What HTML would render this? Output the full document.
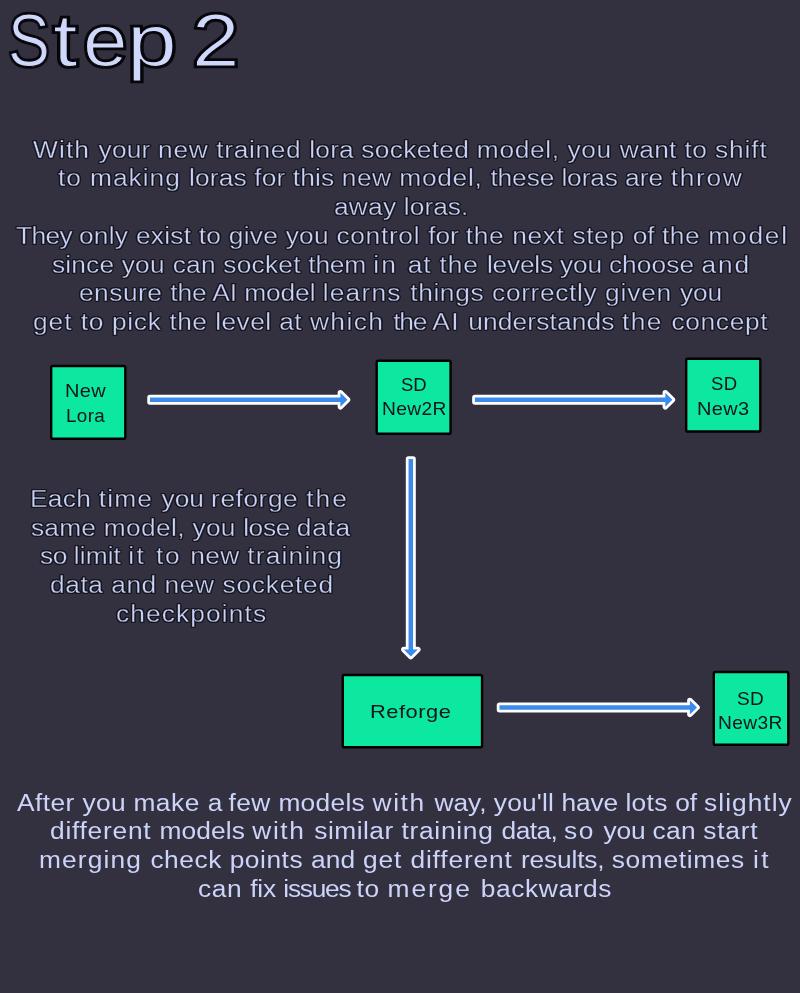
<!DOCTYPE html>
<html><head><meta charset="utf-8"><title>Step 2</title>
<style>
html,body{margin:0;padding:0;}
body{width:800px;height:993px;background:#33303f;position:relative;overflow:hidden;font-family:"Liberation Sans",sans-serif;}
.t{position:absolute;white-space:pre;font-size:23.5px;line-height:30px;height:30px;color:#c9d2f8;transform-origin:0 0;transform:scaleX(1.12);}
.a{-webkit-text-stroke:0.3px #17161f;text-shadow:1.15px 0 0 #17161f,-1.15px 0 0 #17161f,0 1.3px 0 #17161f,0 -1.3px 0 #17161f,.85px .95px 0 #17161f,-.85px .95px 0 #17161f,.85px -.95px 0 #17161f,-.85px -.95px 0 #17161f;}
.b{color:#ccd4fa;}
.box{position:absolute;box-sizing:border-box;background:#0ce8a0;border:2.25px solid #08080c;border-radius:3px;}
.l{position:absolute;white-space:pre;color:#14141c;font-size:18.5px;line-height:24px;height:24px;transform-origin:0 0;transform:scaleX(1.04);}
h1{position:absolute;margin:0;left:0;top:1px;width:260px;height:90px;font-weight:normal;font-size:74.5px;line-height:80px;white-space:pre;color:#cfd8fb;}
.c{position:absolute;top:0;transform-origin:0 0;-webkit-text-stroke:1.2px #07070b;}
.c::before{position:absolute;left:0;top:0;z-index:-1;color:#07070b;-webkit-text-stroke:4.6px #07070b;}
.cS::before{content:"S";}.ct::before{content:"t";}.ce::before{content:"e";}.cp::before{content:"p";}.c2::before{content:"2";}
svg{position:absolute;left:0;top:0;}
.t,.l,.c{will-change:transform;}
</style></head><body>
<h1 id="title"><span class="c cS" style="left:7.90px;transform:scaleX(0.8403)">S</span><span class="c ct" style="left:52.73px;transform:scaleX(1.1800)">t</span><span class="c ce" style="left:83.20px;transform:scaleX(1.0733)">e</span><span class="c cp" style="left:126.60px;transform:scaleX(1.2020)">p</span> <span class="c c2" style="left:191.60px;transform:scaleX(1.1452)">2</span></h1>
<svg width="800" height="993" viewBox="0 0 800 993">
<g fill="#0ce8a0" stroke="#000000" stroke-width="2.4">
<rect x="51.20" y="365.95" width="74.10" height="72.85" rx="1.6" ry="1.6"/>
<rect x="376.70" y="360.70" width="73.85" height="73.10" rx="1.6" ry="1.6"/>
<rect x="686.20" y="358.70" width="74.10" height="72.85" rx="1.6" ry="1.6"/>
<rect x="342.80" y="674.95" width="139.25" height="72.35" rx="1.6" ry="1.6"/>
<rect x="713.80" y="671.95" width="74.50" height="72.85" rx="1.6" ry="1.6"/>
</g>
</svg>
<div class="t a" id="t0" style="left:33.30px;top:135.20px"><span style="letter-spacing:0.999px">With </span><span style="letter-spacing:0.184px">your </span><span style="letter-spacing:0.584px">new trained </span><span style="letter-spacing:0.133px">lora </span><span style="letter-spacing:0.286px">socketed </span><span style="letter-spacing:0.559px">model, you </span><span style="letter-spacing:0.301px">want </span><span style="letter-spacing:0.408px">to </span><span style="letter-spacing:0.752px">shift</span></div>
<div class="t a" id="t1" style="left:58.30px;top:162.90px"><span style="letter-spacing:0.840px">to </span><span style="letter-spacing:0.871px">making </span><span style="letter-spacing:0.124px">loras for this </span><span style="letter-spacing:0.425px">new </span><span style="letter-spacing:0.602px">model, </span><span style="letter-spacing:-0.105px">these loras </span><span style="letter-spacing:0.054px">are </span><span style="letter-spacing:1.492px">throw</span></div>
<div class="t a" id="t2" style="left:333.55px;top:192.20px"><span style="letter-spacing:0.195px">away </span><span style="letter-spacing:0.024px">loras.</span></div>
<div class="t a" id="t3" style="left:16.20px;top:221.20px"><span style="letter-spacing:-0.524px">They </span><span style="letter-spacing:0.250px">only </span><span style="letter-spacing:0.221px">exist to give you </span><span style="letter-spacing:0.616px">control </span><span style="letter-spacing:-0.122px">for </span><span style="letter-spacing:0.566px">the next step </span><span style="letter-spacing:0.022px">of </span><span style="letter-spacing:0.512px">the </span><span style="letter-spacing:1.630px">model</span></div>
<div class="t a" id="t4" style="left:52.20px;top:250.20px"><span style="letter-spacing:0.133px">since </span><span style="letter-spacing:0.278px">you </span><span style="letter-spacing:0.200px">can socket </span><span style="letter-spacing:-0.158px">them </span><span style="letter-spacing:1.977px">in </span><span style="letter-spacing:0.766px">at </span><span style="letter-spacing:0.791px">the </span><span style="letter-spacing:-0.195px">levels you </span><span style="letter-spacing:0.040px">choose </span><span style="letter-spacing:1.730px">and</span></div>
<div class="t a" id="t5" style="left:78.50px;top:277.90px"><span style="letter-spacing:0.434px">ensure </span><span style="letter-spacing:-0.081px">the AI model </span><span style="letter-spacing:1.089px">learns </span><span style="letter-spacing:0.556px">things correctly </span><span style="letter-spacing:0.708px">given </span><span style="letter-spacing:-0.195px">you</span></div>
<div class="t a" id="t6" style="left:33.20px;top:307.20px"><span style="letter-spacing:0.858px">get </span><span style="letter-spacing:0.572px">to </span><span style="letter-spacing:0.611px">pick </span><span style="letter-spacing:0.398px">the level at </span><span style="letter-spacing:1.299px">which </span><span style="letter-spacing:-1.062px">the </span><span style="letter-spacing:1.077px">AI </span><span style="letter-spacing:0.121px">understands </span><span style="letter-spacing:1.226px">the </span><span style="letter-spacing:0.597px">concept</span></div>
<div class="t a" id="t7" style="left:29.80px;top:484.15px"><span style="letter-spacing:0.240px">Each </span><span style="letter-spacing:1.045px">time </span><span style="letter-spacing:-0.045px">you </span><span style="letter-spacing:0.483px">reforge </span><span style="letter-spacing:1.811px">the</span></div>
<div class="t a" id="t8" style="left:30.75px;top:512.90px"><span style="letter-spacing:0.173px">same </span><span style="letter-spacing:0.335px">model, </span><span style="letter-spacing:0.178px">you </span><span style="letter-spacing:-0.339px">lose </span><span style="letter-spacing:0.643px">data</span></div>
<div class="t a" id="t9" style="left:40.05px;top:541.40px"><span style="letter-spacing:-0.379px">so </span><span style="letter-spacing:0.061px">limit </span><span style="letter-spacing:2.106px">it </span><span style="letter-spacing:1.539px">to </span><span style="letter-spacing:0.268px">new </span><span style="letter-spacing:1.081px">training</span></div>
<div class="t a" id="t10" style="left:50.25px;top:569.90px"><span style="letter-spacing:0.499px">data </span><span style="letter-spacing:0.404px">and </span><span style="letter-spacing:0.581px">new </span><span style="letter-spacing:0.663px">socketed</span></div>
<div class="t a" id="t11" style="left:116.40px;top:599.05px;letter-spacing:1.000px">checkpoints</div>
<div class="t b" id="t12" style="left:17.00px;top:788.15px"><span style="letter-spacing:0.400px">After </span><span style="letter-spacing:0.234px">you </span><span style="letter-spacing:0.495px">make </span><span style="letter-spacing:-0.608px">a </span><span style="letter-spacing:0.372px">few </span><span style="letter-spacing:0.259px">models </span><span style="letter-spacing:1.388px">with </span><span style="letter-spacing:-0.024px">way, </span><span style="letter-spacing:0.136px">you'll </span><span style="letter-spacing:-0.071px">have </span><span style="letter-spacing:0.298px">lots </span><span style="letter-spacing:-0.157px">of </span><span style="letter-spacing:0.910px">slightly</span></div>
<div class="t b" id="t13" style="left:50.25px;top:816.05px"><span style="letter-spacing:0.665px">different </span><span style="letter-spacing:0.099px">models </span><span style="letter-spacing:1.406px">with </span><span style="letter-spacing:0.418px">similar </span><span style="letter-spacing:0.646px">training </span><span style="letter-spacing:-0.499px">data, </span><span style="letter-spacing:1.303px">so </span><span style="letter-spacing:-0.168px">you </span><span style="letter-spacing:0.223px">can </span><span style="letter-spacing:0.669px">start</span></div>
<div class="t b" id="t14" style="left:38.95px;top:845.40px"><span style="letter-spacing:1.003px">merging </span><span style="letter-spacing:0.480px">check </span><span style="letter-spacing:0.464px">points </span><span style="letter-spacing:0.170px">and </span><span style="letter-spacing:0.802px">get </span><span style="letter-spacing:0.767px">different </span><span style="letter-spacing:-0.144px">results, </span><span style="letter-spacing:0.602px">sometimes </span><span style="letter-spacing:2.089px">it</span></div>
<div class="t b" id="t15" style="left:197.55px;top:873.95px"><span style="letter-spacing:0.535px">can </span><span style="letter-spacing:-0.097px">fix </span><span style="letter-spacing:-1.131px">issues </span><span style="letter-spacing:0.572px">to </span><span style="letter-spacing:1.686px">merge </span><span style="letter-spacing:0.524px">backwards</span></div>
<div class="l" id="t16" style="left:64.68px;top:379.20px;letter-spacing:0.325px;transform:scaleX(1.078)">New</div>
<div class="l" id="t17" style="left:65.55px;top:403.60px;letter-spacing:0.344px;transform:scaleX(1.019)">Lora</div>
<div class="l" id="t18" style="left:401.02px;top:372.95px;letter-spacing:-0.103px;transform:scaleX(1.000)">SD</div>
<div class="l" id="t19" style="left:381.50px;top:397.30px;letter-spacing:0.338px;transform:scaleX(1.037)">New2R</div>
<div class="l" id="t20" style="left:710.96px;top:371.95px;letter-spacing:0.349px;transform:scaleX(1.003)">SD</div>
<div class="l" id="t21" style="left:697.32px;top:396.60px;letter-spacing:0.325px;transform:scaleX(1.078)">New3</div>
<div class="l" id="t22" style="left:369.50px;top:699.80px;letter-spacing:0.461px;transform:scaleX(1.180)">Reforge</div>
<div class="l" id="t23" style="left:737.38px;top:686.60px;letter-spacing:0.339px;transform:scaleX(1.032)">SD</div>
<div class="l" id="t24" style="left:718.02px;top:710.70px;letter-spacing:0.338px;transform:scaleX(1.037)">New3R</div>
<svg width="800" height="993" viewBox="0 0 800 993">
<g fill="#3b8aec" stroke="#ffffff" stroke-width="5.5" stroke-linejoin="round" style="paint-order:stroke fill">
<path d="M150,397.55 L340.4,397.55 L340.4,392.8 L347.5,399.8 L340.4,406.8 L340.4,402.05 L150,402.05 Z"/>
<path d="M474.9,397.55 L665.3,397.55 L665.3,392.8 L672.4,399.8 L665.3,406.8 L665.3,402.05 L474.9,402.05 Z"/>
<path d="M408.55,459.1 L408.55,649.5 L403.8,649.5 L410.8,656.6 L417.8,649.5 L413.05,649.5 L413.05,459.1 Z"/>
<path d="M499.5,705.15 L689.9,705.15 L689.9,700.4 L697.0,707.4 L689.9,714.4 L689.9,709.65 L499.5,709.65 Z"/>
</g>
</svg>
</body></html>
